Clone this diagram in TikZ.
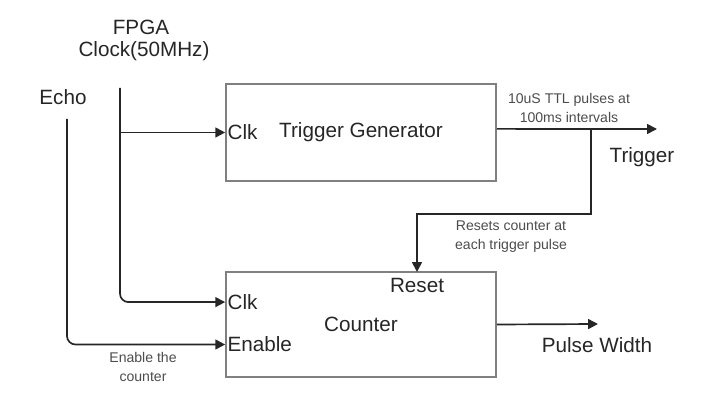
\documentclass[tikz,border=0pt]{standalone}
\usepackage{fontspec}
\setmainfont{Liberation Sans}
\usetikzlibrary{arrows.meta}

\begin{document}
\begin{tikzpicture}[x=0.025cm,y=-0.025cm,
  block/.style={draw=black!50,line width=1.1pt,minimum width=6.75cm,inner sep=0pt},
  lbl/.style={font=\fontsize{14.7}{17}\selectfont,text=black!85,inner sep=1.5pt},
  note/.style={font=\fontsize{10}{13.5}\selectfont,text=black!70,align=center,inner sep=0pt},
  wire/.style={line width=1.2pt,draw=black!85},
  sig/.style={wire,-{Triangle[length=7pt,width=7pt]}}]
\useasboundingbox (0,0) rectangle (702,411);

% blocks
\node[block,lbl,minimum height=2.43cm] (gen) at (361,132.5) {Trigger Generator};
\node[block,lbl,minimum height=2.63cm] (cnt) at (361,324.5) {Counter};

% inputs and outputs
\coordinate (genin) at (gen.west);
\coordinate (genout) at ([yshift=0.09cm]gen.east);
\coordinate (cntclk) at ([yshift=0.56cm]cnt.west);
\coordinate (cnten) at ([yshift=-0.5cm]cnt.west);
\coordinate (rstin) at (417,272);
\coordinate (clktop) at (120,88);
\coordinate (echotop) at (67,119);
\coordinate (tap) at (591,129);
\coordinate (bend) at (591,214);
\coordinate (trigtip) at (657,129);
\coordinate (pwtip) at (598,324);

% port labels
\node[lbl,anchor=west] (genclkl) at (genin) {Clk};
\node[lbl,anchor=west] (cntclkl) at (cntclk) {Clk};
\node[lbl,anchor=west] (cntenl) at (cnten) {Enable};
\node[lbl] (rstl) at (417,285) {Reset};

% signal names
\node[lbl] (fpga) at (141,27) {FPGA};
\node[lbl] (clock) at (144,51) {Clock(50MHz)};
\node[lbl] (echo) at (63,97) {Echo};
\node[lbl] (trig) at (642,157) {Trigger};
\node[lbl] (pw) at (597,345) {Pulse Width};

% notes
\node[note] (pulsenote) at (569,108) {10uS TTL pulses at\\100ms intervals};
\node[note] (rstnote) at (511,237) {Resets counter at\\each trigger pulse};
\node[note] (ennote) at (143,367) {Enable the\\counter};

% connectors
\draw[sig,rounded corners=6pt] (clktop) |- (cntclk);
\draw[sig] (genin -| clktop) -- (genin);
\draw[sig,rounded corners=6pt] (echotop) |- (cnten);
\draw[sig] (genout) -- (trigtip);
\draw[sig] (tap) -- (bend) -| (rstin);
\draw[sig] (cnt.east) -- (pwtip);
\end{tikzpicture}
\end{document}
